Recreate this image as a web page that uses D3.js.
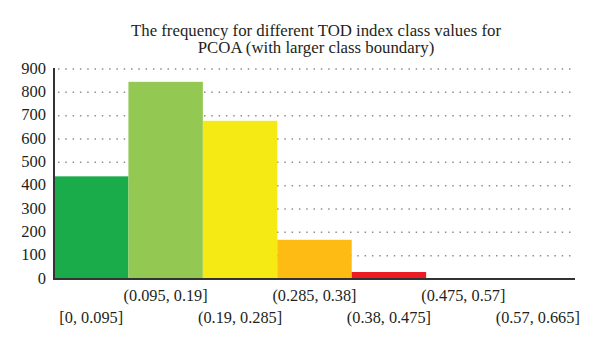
<!DOCTYPE html>
<html>
<head>
<meta charset="utf-8">
<script src="https://cdn.jsdelivr.net/npm/d3@7"></script>
<style>
  body { margin: 0; background: #fff; }
  svg text { font-family: "Liberation Serif", "DejaVu Serif", serif; fill: #231f20; }
</style>
</head>
<body>
<svg id="chart" width="600" height="346"></svg>
<script>
// class intervals and how many values fall into each
var classes = ["[0, 0.095]", "(0.095, 0.19]", "(0.19, 0.285]", "(0.285, 0.38]",
               "(0.38, 0.475]", "(0.475, 0.57]", "(0.57, 0.665]"];
var counts = [440, 845, 678, 168, 30, 0, 0];
var barColors = ["#1aab4b", "#93c852", "#f6ea15", "#fdbb13", "#ec1c24", "#999999", "#999999"];
var yTicks = [0, 100, 200, 300, 400, 500, 600, 700, 800, 900];
var titleLines = ["The frequency for different TOD index class values for",
                  "PCOA (with larger class boundary)"];

var svg = d3.select("#chart");
// plot edges (window.top is taken, so keep these in one object)
var plot = { left: 54, right: 575, top: 69, bottom: 279 };

var x = d3.scaleBand().domain(classes).range([plot.left, plot.right]).padding(0);
var y = d3.scaleLinear().domain([0, 900]).range([plot.bottom, plot.top]);

// Title
svg.append("text")
    .attr("text-anchor", "middle")
    .style("font-size", "16.8px")
    .selectAll("tspan")
    .data(titleLines)
    .enter()
    .append("tspan")
    .attr("x", 316)
    .attr("y", function(d, i) { return 36 + i * 17; })
    .text(function(d) { return d; });

// dotted gridlines
svg.append("g")
    .selectAll("line")
    .data(yTicks.slice(1))
    .enter()
    .append("line")
    .attr("x1", plot.left + 4)
    .attr("x2", plot.right)
    .attr("y1", function(d) { return y(d); })
    .attr("y2", function(d) { return y(d); })
    .attr("stroke", "#8f8f8f")
    .attr("stroke-width", 1.5)
    .attr("stroke-dasharray", "1.5,5.8");

// bars
svg.append("g")
    .selectAll("rect")
    .data(counts)
    .enter()
    .append("rect")
    .attr("x", function(d, i) { return x(classes[i]); })
    .attr("width", x.bandwidth())
    .attr("y", function(d) { return y(d); })
    .attr("height", function(d) { return plot.bottom - y(d); })
    .attr("fill", function(d, i) { return barColors[i]; });

// y tick labels
svg.append("g")
    .selectAll("text")
    .data(yTicks)
    .enter()
    .append("text")
    .attr("text-anchor", "end")
    .attr("dominant-baseline", "central")
    .style("font-size", "16.5px")
    .attr("x", plot.left - 8)
    .attr("y", function(d) { return y(d) - 1; })
    .text(function(d) { return d; });

svg.append("line")
    .attr("x1", plot.left).attr("x2", plot.left)
    .attr("y1", plot.top - 1).attr("y2", plot.bottom + 1)
    .attr("stroke", "#333").attr("stroke-width", 2);

// x axis with staggered labels
svg.append("line")
    .attr("x1", plot.left).attr("x2", plot.right)
    .attr("y1", plot.bottom).attr("y2", plot.bottom)
    .attr("stroke", "#333").attr("stroke-width", 2);

svg.append("g")
    .selectAll("text")
    .data(classes)
    .enter()
    .append("text")
    .attr("text-anchor", "middle")
    .style("font-size", "16.3px")
    .attr("x", function(d) { return x(d) + x.bandwidth() / 2; })
    .attr("y", function(d, i) { return i % 2 === 0 ? 323 : 301; })
    .text(function(d) { return d; });
</script>
</body>
</html>
